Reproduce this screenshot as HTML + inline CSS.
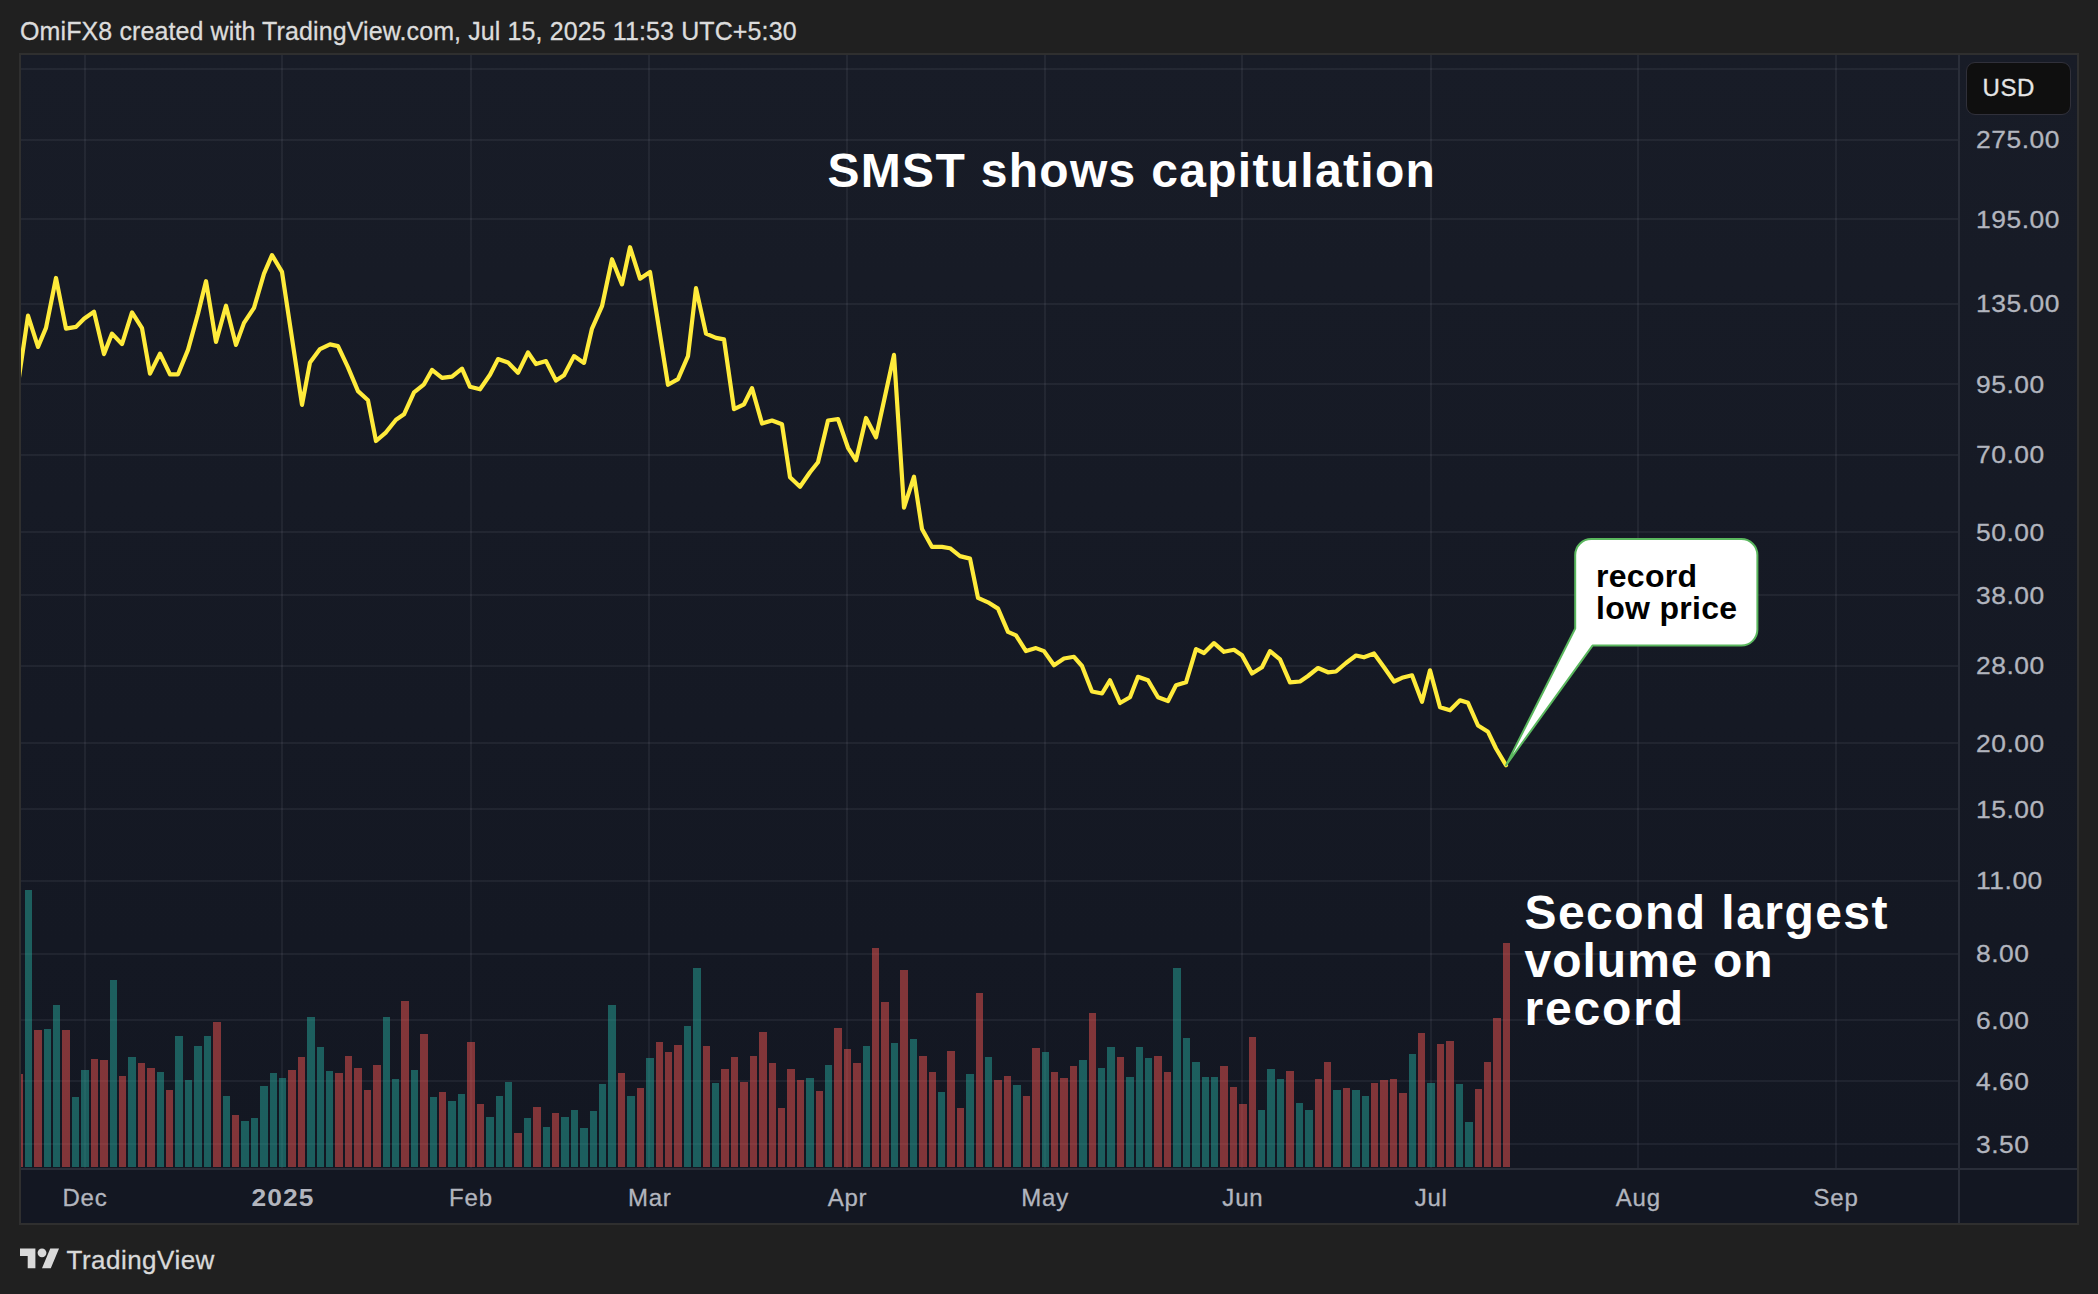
<!DOCTYPE html>
<html lang="en"><head><meta charset="utf-8"><title>SMST chart</title>
<style>
html,body{margin:0;padding:0;background:#202020;}
body{width:2098px;height:1294px;position:relative;overflow:hidden;font-family:"Liberation Sans", Arial, Helvetica, sans-serif;}
.t{position:absolute;white-space:nowrap;line-height:1;}
.rg{-webkit-text-stroke:.3px currentColor;}
.ax{color:#b2b5be;font-size:24px;letter-spacing:.5px;transform:scaleX(1.1);transform-origin:0 0;}
.tm{color:#b2b5be;font-size:24px;letter-spacing:.8px;transform:translateX(-50%);}
.big{color:#fff;font-weight:700;font-size:48px;letter-spacing:1.3px;}
</style></head><body>
<svg width="2098" height="1294" viewBox="0 0 2098 1294" style="position:absolute;left:0;top:0">
<defs><linearGradient id="bg" x1="0" y1="0" x2="0" y2="1"><stop offset="0" stop-color="#181c27"/><stop offset="1" stop-color="#131722"/></linearGradient><clipPath id="pane"><rect x="21" y="55" width="1937" height="1113"/></clipPath></defs>
<rect x="19" y="53" width="2060" height="1172" fill="#2f2f2f"/>
<rect x="21" y="55" width="2056" height="1113" fill="url(#bg)"/>
<rect x="21" y="1168" width="2056" height="55" fill="#131722"/>
<rect x="84" y="55" width="2" height="1113" fill="rgba(240,243,250,0.06)"/>
<rect x="281" y="55" width="2" height="1113" fill="rgba(240,243,250,0.06)"/>
<rect x="470" y="55" width="2" height="1113" fill="rgba(240,243,250,0.06)"/>
<rect x="648" y="55" width="2" height="1113" fill="rgba(240,243,250,0.06)"/>
<rect x="846" y="55" width="2" height="1113" fill="rgba(240,243,250,0.06)"/>
<rect x="1044" y="55" width="2" height="1113" fill="rgba(240,243,250,0.06)"/>
<rect x="1241" y="55" width="2" height="1113" fill="rgba(240,243,250,0.06)"/>
<rect x="1430" y="55" width="2" height="1113" fill="rgba(240,243,250,0.06)"/>
<rect x="1637" y="55" width="2" height="1113" fill="rgba(240,243,250,0.06)"/>
<rect x="1835" y="55" width="2" height="1113" fill="rgba(240,243,250,0.06)"/>
<rect x="21" y="68" width="1937" height="2" fill="rgba(240,243,250,0.06)"/>
<rect x="21" y="139" width="1937" height="2" fill="rgba(240,243,250,0.06)"/>
<rect x="21" y="218" width="1937" height="2" fill="rgba(240,243,250,0.06)"/>
<rect x="21" y="303" width="1937" height="2" fill="rgba(240,243,250,0.06)"/>
<rect x="21" y="383" width="1937" height="2" fill="rgba(240,243,250,0.06)"/>
<rect x="21" y="454" width="1937" height="2" fill="rgba(240,243,250,0.06)"/>
<rect x="21" y="531" width="1937" height="2" fill="rgba(240,243,250,0.06)"/>
<rect x="21" y="594" width="1937" height="2" fill="rgba(240,243,250,0.06)"/>
<rect x="21" y="665" width="1937" height="2" fill="rgba(240,243,250,0.06)"/>
<rect x="21" y="742" width="1937" height="2" fill="rgba(240,243,250,0.06)"/>
<rect x="21" y="808" width="1937" height="2" fill="rgba(240,243,250,0.06)"/>
<rect x="21" y="880" width="1937" height="2" fill="rgba(240,243,250,0.06)"/>
<rect x="21" y="953" width="1937" height="2" fill="rgba(240,243,250,0.06)"/>
<rect x="21" y="1019" width="1937" height="2" fill="rgba(240,243,250,0.06)"/>
<rect x="21" y="1080" width="1937" height="2" fill="rgba(240,243,250,0.06)"/>
<rect x="21" y="1143" width="1937" height="2" fill="rgba(240,243,250,0.06)"/>
<rect x="1958" y="55" width="2" height="1168" fill="#2a2e39"/>
<rect x="21" y="1168" width="2056" height="2" fill="#2a2e39"/>
<g clip-path="url(#pane)">
<rect x="15" y="1074" width="8" height="93" fill="rgba(239,83,80,0.5)"/>
<rect x="25" y="890" width="7" height="277" fill="rgba(38,166,154,0.5)"/>
<rect x="34" y="1030" width="8" height="137" fill="rgba(239,83,80,0.5)"/>
<rect x="44" y="1029" width="7" height="138" fill="rgba(38,166,154,0.5)"/>
<rect x="53" y="1005" width="7" height="162" fill="rgba(38,166,154,0.5)"/>
<rect x="62" y="1030" width="8" height="137" fill="rgba(239,83,80,0.5)"/>
<rect x="72" y="1097" width="7" height="70" fill="rgba(38,166,154,0.5)"/>
<rect x="81" y="1070" width="8" height="97" fill="rgba(38,166,154,0.5)"/>
<rect x="91" y="1059" width="7" height="108" fill="rgba(239,83,80,0.5)"/>
<rect x="100" y="1060" width="8" height="107" fill="rgba(239,83,80,0.5)"/>
<rect x="110" y="980" width="7" height="187" fill="rgba(38,166,154,0.5)"/>
<rect x="119" y="1076" width="7" height="91" fill="rgba(239,83,80,0.5)"/>
<rect x="128" y="1057" width="8" height="110" fill="rgba(38,166,154,0.5)"/>
<rect x="138" y="1063" width="7" height="104" fill="rgba(239,83,80,0.5)"/>
<rect x="147" y="1068" width="8" height="99" fill="rgba(239,83,80,0.5)"/>
<rect x="157" y="1072" width="7" height="95" fill="rgba(38,166,154,0.5)"/>
<rect x="166" y="1090" width="7" height="77" fill="rgba(239,83,80,0.5)"/>
<rect x="175" y="1036" width="8" height="131" fill="rgba(38,166,154,0.5)"/>
<rect x="185" y="1080" width="7" height="87" fill="rgba(38,166,154,0.5)"/>
<rect x="194" y="1046" width="8" height="121" fill="rgba(38,166,154,0.5)"/>
<rect x="204" y="1036" width="7" height="131" fill="rgba(38,166,154,0.5)"/>
<rect x="213" y="1022" width="8" height="145" fill="rgba(239,83,80,0.5)"/>
<rect x="223" y="1096" width="7" height="71" fill="rgba(38,166,154,0.5)"/>
<rect x="232" y="1115" width="7" height="52" fill="rgba(239,83,80,0.5)"/>
<rect x="241" y="1121" width="8" height="46" fill="rgba(38,166,154,0.5)"/>
<rect x="251" y="1118" width="7" height="49" fill="rgba(38,166,154,0.5)"/>
<rect x="260" y="1086" width="8" height="81" fill="rgba(38,166,154,0.5)"/>
<rect x="270" y="1073" width="7" height="94" fill="rgba(38,166,154,0.5)"/>
<rect x="279" y="1078" width="7" height="89" fill="rgba(38,166,154,0.5)"/>
<rect x="288" y="1070" width="8" height="97" fill="rgba(239,83,80,0.5)"/>
<rect x="298" y="1057" width="7" height="110" fill="rgba(239,83,80,0.5)"/>
<rect x="307" y="1017" width="8" height="150" fill="rgba(38,166,154,0.5)"/>
<rect x="317" y="1047" width="7" height="120" fill="rgba(38,166,154,0.5)"/>
<rect x="326" y="1071" width="7" height="96" fill="rgba(38,166,154,0.5)"/>
<rect x="335" y="1073" width="8" height="94" fill="rgba(239,83,80,0.5)"/>
<rect x="345" y="1056" width="7" height="111" fill="rgba(239,83,80,0.5)"/>
<rect x="354" y="1068" width="8" height="99" fill="rgba(239,83,80,0.5)"/>
<rect x="364" y="1090" width="7" height="77" fill="rgba(239,83,80,0.5)"/>
<rect x="373" y="1065" width="8" height="102" fill="rgba(239,83,80,0.5)"/>
<rect x="383" y="1017" width="7" height="150" fill="rgba(38,166,154,0.5)"/>
<rect x="392" y="1079" width="7" height="88" fill="rgba(38,166,154,0.5)"/>
<rect x="401" y="1001" width="8" height="166" fill="rgba(239,83,80,0.5)"/>
<rect x="411" y="1070" width="7" height="97" fill="rgba(38,166,154,0.5)"/>
<rect x="420" y="1034" width="8" height="133" fill="rgba(239,83,80,0.5)"/>
<rect x="430" y="1097" width="7" height="70" fill="rgba(38,166,154,0.5)"/>
<rect x="439" y="1092" width="7" height="75" fill="rgba(239,83,80,0.5)"/>
<rect x="448" y="1101" width="8" height="66" fill="rgba(38,166,154,0.5)"/>
<rect x="458" y="1094" width="7" height="73" fill="rgba(38,166,154,0.5)"/>
<rect x="467" y="1042" width="8" height="125" fill="rgba(239,83,80,0.5)"/>
<rect x="477" y="1104" width="7" height="63" fill="rgba(239,83,80,0.5)"/>
<rect x="486" y="1117" width="8" height="50" fill="rgba(38,166,154,0.5)"/>
<rect x="496" y="1096" width="7" height="71" fill="rgba(38,166,154,0.5)"/>
<rect x="505" y="1082" width="7" height="85" fill="rgba(38,166,154,0.5)"/>
<rect x="514" y="1133" width="8" height="34" fill="rgba(239,83,80,0.5)"/>
<rect x="524" y="1118" width="7" height="49" fill="rgba(38,166,154,0.5)"/>
<rect x="533" y="1107" width="8" height="60" fill="rgba(239,83,80,0.5)"/>
<rect x="543" y="1127" width="7" height="40" fill="rgba(38,166,154,0.5)"/>
<rect x="552" y="1113" width="7" height="54" fill="rgba(239,83,80,0.5)"/>
<rect x="561" y="1117" width="8" height="50" fill="rgba(38,166,154,0.5)"/>
<rect x="571" y="1110" width="7" height="57" fill="rgba(38,166,154,0.5)"/>
<rect x="580" y="1128" width="8" height="39" fill="rgba(38,166,154,0.5)"/>
<rect x="590" y="1111" width="7" height="56" fill="rgba(38,166,154,0.5)"/>
<rect x="599" y="1084" width="7" height="83" fill="rgba(38,166,154,0.5)"/>
<rect x="608" y="1005" width="8" height="162" fill="rgba(38,166,154,0.5)"/>
<rect x="618" y="1073" width="7" height="94" fill="rgba(239,83,80,0.5)"/>
<rect x="627" y="1096" width="8" height="71" fill="rgba(38,166,154,0.5)"/>
<rect x="637" y="1088" width="7" height="79" fill="rgba(239,83,80,0.5)"/>
<rect x="646" y="1058" width="8" height="109" fill="rgba(38,166,154,0.5)"/>
<rect x="656" y="1042" width="7" height="125" fill="rgba(239,83,80,0.5)"/>
<rect x="665" y="1052" width="7" height="115" fill="rgba(239,83,80,0.5)"/>
<rect x="674" y="1045" width="8" height="122" fill="rgba(239,83,80,0.5)"/>
<rect x="684" y="1026" width="7" height="141" fill="rgba(38,166,154,0.5)"/>
<rect x="693" y="968" width="8" height="199" fill="rgba(38,166,154,0.5)"/>
<rect x="703" y="1046" width="7" height="121" fill="rgba(239,83,80,0.5)"/>
<rect x="712" y="1083" width="7" height="84" fill="rgba(38,166,154,0.5)"/>
<rect x="721" y="1069" width="8" height="98" fill="rgba(239,83,80,0.5)"/>
<rect x="731" y="1057" width="7" height="110" fill="rgba(239,83,80,0.5)"/>
<rect x="740" y="1082" width="8" height="85" fill="rgba(239,83,80,0.5)"/>
<rect x="750" y="1056" width="7" height="111" fill="rgba(239,83,80,0.5)"/>
<rect x="759" y="1032" width="8" height="135" fill="rgba(239,83,80,0.5)"/>
<rect x="769" y="1063" width="7" height="104" fill="rgba(239,83,80,0.5)"/>
<rect x="778" y="1108" width="7" height="59" fill="rgba(239,83,80,0.5)"/>
<rect x="787" y="1069" width="8" height="98" fill="rgba(239,83,80,0.5)"/>
<rect x="797" y="1080" width="7" height="87" fill="rgba(239,83,80,0.5)"/>
<rect x="806" y="1078" width="8" height="89" fill="rgba(38,166,154,0.5)"/>
<rect x="816" y="1091" width="7" height="76" fill="rgba(239,83,80,0.5)"/>
<rect x="825" y="1065" width="7" height="102" fill="rgba(38,166,154,0.5)"/>
<rect x="834" y="1028" width="8" height="139" fill="rgba(239,83,80,0.5)"/>
<rect x="844" y="1049" width="7" height="118" fill="rgba(239,83,80,0.5)"/>
<rect x="853" y="1063" width="8" height="104" fill="rgba(239,83,80,0.5)"/>
<rect x="863" y="1046" width="7" height="121" fill="rgba(38,166,154,0.5)"/>
<rect x="872" y="948" width="7" height="219" fill="rgba(239,83,80,0.5)"/>
<rect x="881" y="1002" width="8" height="165" fill="rgba(239,83,80,0.5)"/>
<rect x="891" y="1043" width="7" height="124" fill="rgba(38,166,154,0.5)"/>
<rect x="900" y="970" width="8" height="197" fill="rgba(239,83,80,0.5)"/>
<rect x="910" y="1039" width="7" height="128" fill="rgba(38,166,154,0.5)"/>
<rect x="919" y="1056" width="8" height="111" fill="rgba(239,83,80,0.5)"/>
<rect x="929" y="1072" width="7" height="95" fill="rgba(239,83,80,0.5)"/>
<rect x="938" y="1092" width="7" height="75" fill="rgba(38,166,154,0.5)"/>
<rect x="947" y="1051" width="8" height="116" fill="rgba(239,83,80,0.5)"/>
<rect x="957" y="1108" width="7" height="59" fill="rgba(239,83,80,0.5)"/>
<rect x="966" y="1074" width="8" height="93" fill="rgba(38,166,154,0.5)"/>
<rect x="976" y="993" width="7" height="174" fill="rgba(239,83,80,0.5)"/>
<rect x="985" y="1057" width="7" height="110" fill="rgba(38,166,154,0.5)"/>
<rect x="994" y="1080" width="8" height="87" fill="rgba(239,83,80,0.5)"/>
<rect x="1004" y="1076" width="7" height="91" fill="rgba(239,83,80,0.5)"/>
<rect x="1013" y="1085" width="8" height="82" fill="rgba(38,166,154,0.5)"/>
<rect x="1023" y="1096" width="7" height="71" fill="rgba(239,83,80,0.5)"/>
<rect x="1032" y="1048" width="8" height="119" fill="rgba(239,83,80,0.5)"/>
<rect x="1042" y="1052" width="7" height="115" fill="rgba(38,166,154,0.5)"/>
<rect x="1051" y="1072" width="7" height="95" fill="rgba(239,83,80,0.5)"/>
<rect x="1060" y="1078" width="8" height="89" fill="rgba(239,83,80,0.5)"/>
<rect x="1070" y="1066" width="7" height="101" fill="rgba(239,83,80,0.5)"/>
<rect x="1079" y="1060" width="8" height="107" fill="rgba(38,166,154,0.5)"/>
<rect x="1089" y="1013" width="7" height="154" fill="rgba(239,83,80,0.5)"/>
<rect x="1098" y="1068" width="7" height="99" fill="rgba(38,166,154,0.5)"/>
<rect x="1107" y="1047" width="8" height="120" fill="rgba(38,166,154,0.5)"/>
<rect x="1117" y="1057" width="7" height="110" fill="rgba(239,83,80,0.5)"/>
<rect x="1126" y="1077" width="8" height="90" fill="rgba(38,166,154,0.5)"/>
<rect x="1136" y="1047" width="7" height="120" fill="rgba(38,166,154,0.5)"/>
<rect x="1145" y="1058" width="7" height="109" fill="rgba(38,166,154,0.5)"/>
<rect x="1154" y="1056" width="8" height="111" fill="rgba(239,83,80,0.5)"/>
<rect x="1164" y="1072" width="7" height="95" fill="rgba(239,83,80,0.5)"/>
<rect x="1173" y="968" width="8" height="199" fill="rgba(38,166,154,0.5)"/>
<rect x="1183" y="1038" width="7" height="129" fill="rgba(38,166,154,0.5)"/>
<rect x="1192" y="1062" width="8" height="105" fill="rgba(38,166,154,0.5)"/>
<rect x="1202" y="1077" width="7" height="90" fill="rgba(38,166,154,0.5)"/>
<rect x="1211" y="1077" width="7" height="90" fill="rgba(38,166,154,0.5)"/>
<rect x="1220" y="1066" width="8" height="101" fill="rgba(239,83,80,0.5)"/>
<rect x="1230" y="1087" width="7" height="80" fill="rgba(239,83,80,0.5)"/>
<rect x="1239" y="1104" width="8" height="63" fill="rgba(239,83,80,0.5)"/>
<rect x="1249" y="1037" width="7" height="130" fill="rgba(239,83,80,0.5)"/>
<rect x="1258" y="1110" width="7" height="57" fill="rgba(38,166,154,0.5)"/>
<rect x="1267" y="1069" width="8" height="98" fill="rgba(38,166,154,0.5)"/>
<rect x="1277" y="1079" width="7" height="88" fill="rgba(38,166,154,0.5)"/>
<rect x="1286" y="1071" width="8" height="96" fill="rgba(239,83,80,0.5)"/>
<rect x="1296" y="1103" width="7" height="64" fill="rgba(38,166,154,0.5)"/>
<rect x="1305" y="1110" width="8" height="57" fill="rgba(38,166,154,0.5)"/>
<rect x="1315" y="1079" width="7" height="88" fill="rgba(239,83,80,0.5)"/>
<rect x="1324" y="1062" width="7" height="105" fill="rgba(239,83,80,0.5)"/>
<rect x="1333" y="1090" width="8" height="77" fill="rgba(38,166,154,0.5)"/>
<rect x="1343" y="1088" width="7" height="79" fill="rgba(239,83,80,0.5)"/>
<rect x="1352" y="1090" width="8" height="77" fill="rgba(38,166,154,0.5)"/>
<rect x="1362" y="1096" width="7" height="71" fill="rgba(38,166,154,0.5)"/>
<rect x="1371" y="1083" width="7" height="84" fill="rgba(239,83,80,0.5)"/>
<rect x="1380" y="1080" width="8" height="87" fill="rgba(239,83,80,0.5)"/>
<rect x="1390" y="1079" width="7" height="88" fill="rgba(239,83,80,0.5)"/>
<rect x="1399" y="1093" width="8" height="74" fill="rgba(239,83,80,0.5)"/>
<rect x="1409" y="1054" width="7" height="113" fill="rgba(38,166,154,0.5)"/>
<rect x="1418" y="1033" width="7" height="134" fill="rgba(239,83,80,0.5)"/>
<rect x="1427" y="1083" width="8" height="84" fill="rgba(38,166,154,0.5)"/>
<rect x="1437" y="1044" width="7" height="123" fill="rgba(239,83,80,0.5)"/>
<rect x="1446" y="1041" width="8" height="126" fill="rgba(239,83,80,0.5)"/>
<rect x="1456" y="1084" width="7" height="83" fill="rgba(38,166,154,0.5)"/>
<rect x="1465" y="1122" width="8" height="45" fill="rgba(38,166,154,0.5)"/>
<rect x="1475" y="1089" width="7" height="78" fill="rgba(239,83,80,0.5)"/>
<rect x="1484" y="1062" width="7" height="105" fill="rgba(239,83,80,0.5)"/>
<rect x="1493" y="1018" width="8" height="149" fill="rgba(239,83,80,0.5)"/>
<rect x="1503" y="943" width="7" height="224" fill="rgba(239,83,80,0.5)"/>
<polyline points="18,384.0 28,315.7 38,346.9 46,327.9 56,278.0 66,328.6 76,326.9 84,318.7 94,311.7 104,354.1 112,333.6 122,344.1 132,312.4 142,328.1 150,373.6 160,353.6 170,374.3 178,374.3 188,349.9 198,313.7 206,281.2 216,341.9 226,305.7 236,344.9 244,322.9 254,307.9 264,273.7 272,255.2 282,271.9 292,338.4 302,404.8 310,362.4 320,349.1 330,344.4 338,346.1 348,367.4 358,391.1 368,400.3 376,441.0 386,432.3 396,419.8 404,414.3 414,392.3 424,384.3 432,369.9 442,377.8 452,376.6 462,368.6 470,386.8 480,389.3 490,374.8 498,359.1 508,362.4 518,372.8 528,352.4 536,364.1 546,361.1 556,380.6 564,375.3 574,356.1 584,362.9 592,328.6 602,306.2 612,259.2 622,284.4 630,247.2 640,278.7 650,271.9 658,322.1 668,384.8 678,379.1 688,356.1 696,288.2 706,333.6 716,337.9 724,339.4 734,409.1 744,404.3 752,388.1 762,423.5 772,420.5 782,424.3 790,477.2 800,486.7 810,472.2 818,462.3 828,420.5 838,419.0 848,447.8 856,460.3 866,418.0 876,437.3 884,400.7 894,354.9 904,507.7 914,476.7 922,529.0 932,546.9 942,546.9 950,548.2 960,556.1 970,558.6 978,597.9 988,602.3 998,608.6 1008,631.8 1016,635.3 1026,651.1 1036,648.1 1044,651.1 1054,665.3 1064,658.5 1074,656.8 1082,666.0 1092,691.5 1102,693.5 1110,680.3 1120,703.0 1130,697.3 1138,676.8 1148,680.3 1158,697.3 1168,701.0 1176,685.3 1186,682.3 1196,649.1 1204,653.0 1214,643.1 1224,651.8 1234,649.8 1242,655.3 1252,673.5 1262,667.3 1270,651.1 1280,659.3 1290,682.3 1300,681.5 1308,676.0 1318,668.0 1328,672.3 1336,671.5 1346,663.0 1356,655.5 1364,657.3 1374,653.5 1384,667.3 1394,681.5 1402,677.8 1412,675.3 1422,701.8 1430,670.3 1440,707.3 1450,710.3 1460,700.3 1468,702.8 1478,725.5 1488,731.8 1496,748.5 1506,765.2" fill="none" stroke="#ffeb3b" stroke-width="4.2" stroke-linejoin="round" stroke-linecap="round"/>
</g>
<path d="M1591.2,539 H1741.4 A16,16 0 0 1 1757.4,555 V629.6 A16,16 0 0 1 1741.4,645.6 H1592.5 L1506.1,765.2 L1575.2,628.5 V555 A16,16 0 0 1 1591.2,539 Z" fill="#ffffff" stroke="#5ab75e" stroke-width="2" stroke-linejoin="round"/>
</svg>
<div class="t rg" style="left:20px;top:18.7px;font-size:25px;color:#dcdcdc;letter-spacing:.11px">OmiFX8 created with TradingView.com, Jul 15, 2025 11:53 UTC+5:30</div>
<div class="t big" style="left:827.5px;top:146.5px">SMST shows capitulation</div>
<div class="t big" style="left:1524.5px;top:888.5px;line-height:48px;letter-spacing:1.45px">Second largest<br><span style="letter-spacing:1px">volume on</span><br><span style="letter-spacing:1.85px">record</span></div>
<div class="t" style="left:1596px;top:560px;font-size:32px;font-weight:700;color:#000;line-height:32px;letter-spacing:.3px">record<br>low price</div>
<div class="t" style="left:1965.5px;top:61.5px;width:103px;height:51px;border:1px solid #30303a;border-radius:9px;background:#0f0f0f;"></div>
<div class="t rg" style="left:1982.5px;top:76px;font-size:24px;color:#e6e6e6;letter-spacing:.6px">USD</div>
<div class="t ax rg" style="left:1976px;top:128.4px">275.00</div>
<div class="t ax rg" style="left:1976px;top:207.5px">195.00</div>
<div class="t ax rg" style="left:1976px;top:292.1px">135.00</div>
<div class="t ax rg" style="left:1976px;top:373.0px">95.00</div>
<div class="t ax rg" style="left:1976px;top:443.2px">70.00</div>
<div class="t ax rg" style="left:1976px;top:520.7px">50.00</div>
<div class="t ax rg" style="left:1976px;top:583.8px">38.00</div>
<div class="t ax rg" style="left:1976px;top:654.1px">28.00</div>
<div class="t ax rg" style="left:1976px;top:731.5px">20.00</div>
<div class="t ax rg" style="left:1976px;top:797.7px">15.00</div>
<div class="t ax rg" style="left:1976px;top:869.1px">11.00</div>
<div class="t ax rg" style="left:1976px;top:942.3px">8.00</div>
<div class="t ax rg" style="left:1976px;top:1008.5px">6.00</div>
<div class="t ax rg" style="left:1976px;top:1069.7px">4.60</div>
<div class="t ax rg" style="left:1976px;top:1132.6px">3.50</div>
<div class="t tm rg" style="left:85.0px;top:1186px;">Dec</div>
<div class="t tm" style="left:282.7px;top:1186px;font-weight:700;letter-spacing:1px;transform:translateX(-50%) scaleX(1.1);margin-left:.5px;">2025</div>
<div class="t tm rg" style="left:471.0px;top:1186px;">Feb</div>
<div class="t tm rg" style="left:649.8px;top:1186px;">Mar</div>
<div class="t tm rg" style="left:847.5px;top:1186px;">Apr</div>
<div class="t tm rg" style="left:1045.2px;top:1186px;">May</div>
<div class="t tm rg" style="left:1242.9px;top:1186px;">Jun</div>
<div class="t tm rg" style="left:1431.2px;top:1186px;">Jul</div>
<div class="t tm rg" style="left:1638.3px;top:1186px;">Aug</div>
<div class="t tm rg" style="left:1836.0px;top:1186px;">Sep</div>
<svg viewBox="0 0 36 28" width="39.6" height="30.8" style="position:absolute;left:20px;top:1243.9px"><path d="M14 22H7V11H0V4h14v18zM28 22h-8l7.5-18h8L28 22z" fill="#d9d9d9"/><circle cx="20" cy="8" r="4" fill="#d9d9d9"/></svg>
<div class="t rg" style="left:66.5px;top:1246.7px;font-size:26px;color:#d9d9d9;letter-spacing:.48px">TradingView</div>
</body></html>
